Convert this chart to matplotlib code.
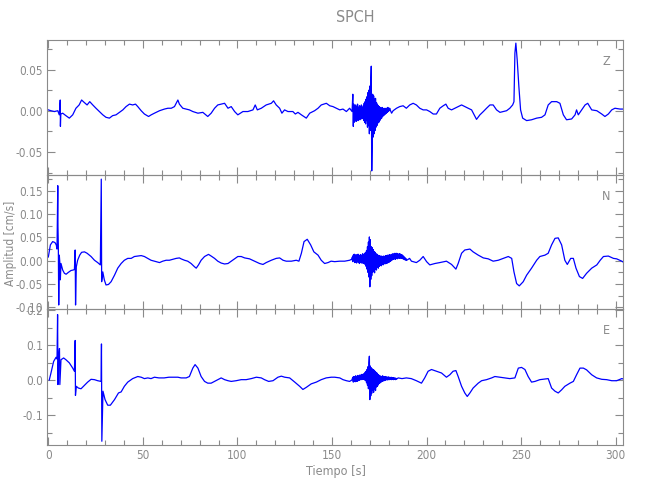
import numpy as np
import matplotlib
matplotlib.use("Agg")
import matplotlib.pyplot as plt
from matplotlib.ticker import MultipleLocator, FormatStrFormatter

plt.rcParams["font.family"] = ["DejaVu Sans"]
plt.rcParams["font.stretch"] = "condensed"

GRAY = "#8a8a8a"
BLUE = "#0000ff"

# ---- Z component (cm/s) ----
z_t = [0.0, 1.4, 3.2, 5.0, 5.8, 6.3, 6.4, 6.6, 7.6, 9.3, 11.1, 12.9, 14.6, 16.3, 17.6,
       19.0, 20.5, 21.9, 23.5, 25.2, 27.0, 28.8, 30.5, 32.3, 34.0, 35.8, 37.6, 39.4,
       41.1, 42.9, 44.6, 46.1, 47.3, 49.1, 50.8, 53.0, 54.4, 56.1, 58.8, 61.4, 63.2,
       65.0, 66.7, 68.5, 69.3, 71.1, 72.9, 74.6, 76.4, 79.1, 81.7, 84.3, 86.1, 87.9,
       89.6, 91.4, 93.2, 95.0, 96.7, 98.5, 100.2, 102.9, 105.5, 108.2, 109.4, 110.5,
       112.6, 115.2, 117.9, 119.1, 120.5, 122.3, 123.5, 124.9, 126.7, 129.3, 130.6,
       132.0, 133.8, 136.4, 138.2, 140.8, 142.6, 144.3, 147.0, 148.8, 150.5, 152.3,
       154.1, 155.8, 157.6, 159.3, 160.6,
       181.5, 182.3, 184.1, 185.8, 187.6, 189.3, 191.1, 192.9, 194.6, 196.4, 198.2,
       200.0, 201.7, 203.5, 205.2, 207.0, 208.8, 210.2, 211.4, 213.2, 215.0, 216.7,
       218.5, 220.2, 222.0, 223.8, 226.4, 228.2, 230.0, 231.7, 233.5, 235.2, 237.0,
       238.8, 240.5, 242.3, 244.0, 245.5, 246.2, 246.7, 247.2, 247.9, 248.8, 249.7,
       250.8, 252.9, 255.5, 258.2, 260.8, 262.6, 264.3, 266.1, 268.8, 270.5, 272.3,
       274.0, 276.7, 278.5, 279.3, 280.2, 282.0, 283.8, 285.2, 287.3, 290.0, 292.6,
       294.3, 296.1, 297.9, 299.6, 302.3, 304.0]
z_v = [0.001, 0.000, -0.001, 0.000, -0.005, 0.013, -0.019, -0.004, -0.003, -0.006,
       -0.009, -0.005, 0.003, 0.007, 0.013, 0.010, 0.007, 0.011, 0.007, 0.003, -0.001,
       -0.005, -0.008, -0.009, -0.006, -0.005, -0.002, 0.001, 0.005, 0.008, 0.007,
       0.008, 0.005, 0.000, -0.004, -0.007, -0.005, -0.003, 0.000, 0.002, 0.003, 0.003,
       0.005, 0.013, 0.008, 0.003, 0.002, 0.001, -0.001, -0.003, -0.002, -0.007,
       -0.003, 0.003, 0.007, 0.008, 0.009, 0.003, 0.005, -0.001, -0.005, -0.001,
       -0.001, 0.001, 0.007, 0.001, 0.003, 0.007, 0.009, 0.012, 0.007, 0.003, -0.003,
       0.001, -0.001, -0.001, -0.004, -0.002, -0.005, -0.009, -0.003, 0.000, 0.003,
       0.007, 0.009, 0.006, 0.005, 0.003, 0.001, 0.002, -0.001, 0.003, -0.001,
       -0.003, 0.000, 0.003, 0.005, 0.006, 0.003, 0.007, 0.009, 0.007, 0.003, 0.001,
       0.001, -0.001, -0.004, -0.004, 0.003, 0.006, 0.008, 0.003, 0.001, 0.003, 0.005,
       0.007, 0.005, 0.003, 0.001, -0.0105, -0.005, -0.001, 0.003, 0.007, 0.007,
       0.001, -0.002, -0.001, 0.000, 0.003, 0.007, 0.011, 0.070, 0.082, 0.062, 0.029,
       0.001, -0.009, -0.012, -0.011, -0.009, -0.008, -0.005, 0.007, 0.011, 0.011,
       0.009, -0.005, -0.011, -0.010, -0.005, 0.001, -0.005, 0.001, 0.007, 0.009,
       0.001, 0.000, -0.004, -0.007, -0.004, 0.001, 0.003, 0.002, 0.002]
# burst, one value every 0.25 s starting at 161.0 s (units of 0.001 cm/s)
z_burst_start = 161.0
z_burst = [20, -19, 8, -14, 6, -12, 7, -13, 5, -10, 8, -12, 4, -9, 6, -11, 5, -8, 7, -10,
           3, -9, 6, -12, 9, -14, 11, -16, 14, -12, 17, -20, 22, -18, 25, -28, 30, -24,
           34, 54, -73, -38, 20, -32, 18, -28, 14, -24, 15, -20, 10, -18, 8, -15, 6, -14,
           5, -12, 4, -10, 3, -9, 4, -7, 2, -6, 3, -5, 2, -4, 3, -3, 3, -2, 4, -1, 3, 0,
           3, 1]

# ---- N component ----
n_t = [0.0, 1.1, 2.3, 3.5, 4.2, 4.6, 5.0, 5.1, 5.3, 5.5, 5.8, 6.2, 6.35, 6.7, 7.6, 8.5,
       9.4, 10.6, 12.0, 13.1, 13.8, 14.2, 14.4, 14.8, 15.5, 16.6, 17.6, 19.1, 20.5,
       22.6, 24.4, 26.1, 27.5, 28.0, 28.2, 28.8, 29.6, 30.5, 31.8, 33.2, 35.0, 36.7,
       38.5, 40.2, 42.0, 43.8, 45.5, 47.3, 49.1, 50.8, 52.6, 54.3, 56.1, 58.8, 60.5,
       62.3, 64.0, 65.8, 67.6, 69.3, 70.2, 72.0, 73.7, 75.5, 77.3, 78.2, 79.4, 80.8,
       82.6, 84.7, 86.1, 87.9, 89.6, 91.4, 93.2, 95.0, 96.7, 98.5, 100.2, 102.0,
       103.8, 106.4, 109.1, 111.7, 113.5, 115.2, 117.9, 120.5, 122.3, 124.1, 125.8,
       128.5, 131.1, 132.5, 133.8, 135.2, 136.9, 138.7, 140.4, 142.6, 144.3, 146.1,
       147.9, 149.5, 151.4, 154.1, 156.7, 159.3, 160.3,
       191.0, 192.0, 194.6, 196.4, 198.2, 200.0, 201.7, 204.4, 207.0, 210.5, 213.2,
       215.5, 216.7, 218.5, 220.2, 222.9, 224.6, 227.3, 230.0, 232.6, 235.2, 237.9,
       240.5, 243.2, 245.0, 246.2, 247.6, 249.0, 251.1, 252.9, 255.5, 258.2, 259.9,
       262.6, 264.3, 266.1, 267.9, 269.6, 271.4, 273.1, 274.4, 276.2, 277.6, 279.0,
       280.8, 282.5, 284.6, 287.3, 290.0, 291.8, 293.5, 296.1, 298.8, 300.5, 303.2,
       304.0]
n_v = [0.008, 0.034, 0.041, 0.039, 0.034, 0.025, 0.161, 0.073, 0.030, -0.095, 0.012,
       -0.010, -0.041, -0.006, -0.020, -0.027, -0.029, -0.025, -0.021, -0.020, -0.019,
       0.023, -0.095, -0.013, 0.001, 0.012, 0.018, 0.019, 0.016, 0.009, 0.001, -0.004,
       -0.009, 0.175, -0.045, -0.024, -0.041, -0.052, -0.051, -0.045, -0.031, -0.016,
       -0.006, 0.001, 0.005, 0.005, 0.009, 0.010, 0.011, 0.009, 0.005, 0.001, -0.001,
       -0.004, -0.001, 0.001, 0.001, 0.003, 0.005, 0.006, 0.004, 0.001, -0.001, -0.006,
       -0.013, -0.016, -0.009, 0.001, 0.009, 0.0136, 0.010, 0.005, -0.001, -0.005,
       -0.007, -0.006, -0.001, 0.004, 0.009, 0.009, 0.006, 0.004, -0.001, -0.006,
       -0.008, -0.004, 0.001, 0.005, 0.006, 0.001, -0.001, -0.001, 0.001, -0.001,
       0.016, 0.041, 0.046, 0.034, 0.019, 0.012, 0.001, -0.006, -0.004, -0.001,
       -0.002, -0.001, -0.001, 0.001, 0.003,
       0.005, -0.001, -0.004, 0.001, 0.009, -0.002, -0.009, -0.006, -0.004, -0.001,
       -0.008, -0.018, -0.006, 0.016, 0.023, 0.025, 0.019, 0.012, 0.006, 0.004,
       -0.001, 0.001, 0.005, 0.009, 0.005, -0.024, -0.049, -0.054, -0.045, -0.031,
       -0.016, 0.001, 0.009, 0.012, 0.016, 0.034, 0.048, 0.049, 0.034, 0.001, -0.008,
       0.005, 0.005, -0.016, -0.034, -0.038, -0.027, -0.016, -0.009, 0.001, 0.009,
       0.010, 0.005, 0.004, -0.001, -0.003]
n_burst_start = 160.5
n_burst = [2, 8, -2, 12, 0, 14, -4, 12, -3, 13, -5, 11, -2, 14, -4, 10, -6, 12, -3, 13,
           -5, 11, -4, 15, -6, 12, -3, 16, -8, 18, -12, 22, -18, 30, -25, 40, -35, 51,
           -56, 45, -40, 30, -32, 28, -25, 24, -22, 20, -26, 18, -18, 15, -20, 14, -14,
           12, -16, 10, -12, 11, -10, 9, -11, 10, -8, 9, -9, 10, -6, 9, -7, 11, -5, 10,
           -6, 12, -3, 11, -4, 13, -2, 12, -1, 13, 1, 14, 2, 15, 3, 14, 4, 16, 3, 15, 5,
           16, 4, 15, 6, 14, 5, 15, 6, 14, 5, 13, 5, 12, 4, 10, 3, 8, 2, 6, 1, 4, 1]

# ---- E component ----
e_t = [0.5, 1.4, 2.8, 4.1, 4.6, 4.9, 5.1, 5.4, 5.9, 6.1, 6.7, 8.1, 9.3, 11.1, 12.9,
       13.8, 14.2, 14.35, 14.8, 15.9, 17.3, 19.1, 20.8, 22.6, 24.4, 26.1, 27.9, 28.1,
       28.3, 28.9, 30.0, 31.4, 32.8, 35.0, 37.1, 38.5, 40.2, 42.0, 44.6, 47.3, 49.1,
       50.8, 52.6, 54.3, 56.1, 58.5, 61.2, 63.8, 68.5, 70.2, 72.9, 74.6, 76.4, 77.6,
       79.1, 80.8, 82.6, 84.3, 86.1, 87.9, 89.6, 91.4, 93.2, 95.0, 96.7, 99.3, 102.0,
       104.6, 107.3, 110.0, 112.6, 114.3, 116.5, 118.8, 121.4, 123.2, 125.0, 127.6,
       130.3, 132.9, 134.6, 136.4, 139.0, 141.7, 144.3, 146.9, 149.6, 151.4, 154.1,
       155.8, 157.6, 159.3, 160.5,
       185.0, 187.0, 189.3, 191.9, 194.6, 197.3, 199.0, 200.8, 202.6, 205.2, 207.9,
       210.5, 212.3, 214.0, 215.5, 216.7, 218.5, 220.2, 221.5, 222.9, 224.6, 227.3,
       229.1, 231.7, 234.4, 236.1, 238.8, 241.4, 244.0, 246.7, 248.5, 250.2, 252.0,
       253.7, 255.5, 257.3, 259.9, 262.6, 264.3, 266.1, 267.9, 269.6, 271.4, 273.1,
       275.8, 277.6, 279.3, 281.1, 282.9, 284.6, 287.3, 289.9, 292.6, 295.2, 297.9,
       300.5, 303.2, 304.0]
e_v = [0.000, 0.020, 0.053, 0.065, 0.060, 0.187, -0.013, 0.060, 0.090, -0.013, 0.058,
       0.063, 0.058, 0.049, 0.034, 0.025, 0.113, -0.044, -0.018, -0.023, -0.025, -0.015,
       -0.006, 0.002, 0.001, -0.002, -0.004, 0.103, -0.175, -0.032, -0.056, -0.072,
       -0.072, -0.056, -0.037, -0.034, -0.018, -0.006, 0.004, 0.010, 0.008, 0.004,
       0.006, 0.004, 0.008, 0.006, 0.006, 0.008, 0.008, 0.006, 0.006, 0.010, 0.034,
       0.044, 0.034, 0.010, -0.004, -0.009, -0.009, -0.004, 0.001, 0.006, 0.001,
       -0.002, -0.004, -0.002, 0.001, 0.001, 0.004, 0.008, 0.006, 0.001, -0.004,
       -0.002, 0.008, 0.011, 0.008, 0.006, -0.006, -0.018, -0.027, -0.021, -0.011,
       -0.006, 0.001, 0.006, 0.008, 0.008, 0.006, 0.001, -0.002, -0.004, 0.000,
       0.006, 0.004, 0.006, 0.004, -0.002, -0.009, 0.006, 0.025, 0.030, 0.025, 0.020,
       0.008, 0.015, 0.025, 0.027, 0.010, -0.018, -0.037, -0.047, -0.037, -0.023,
       -0.009, -0.002, 0.001, 0.006, 0.010, 0.008, 0.006, 0.004, 0.006, 0.034, 0.036,
       0.030, 0.010, -0.006, -0.004, 0.001, 0.003, 0.004, -0.023, -0.032, -0.037,
       -0.028, -0.018, -0.009, -0.004, 0.015, 0.034, 0.034, 0.029, 0.015, 0.006,
       0.002, 0.001, -0.002, -0.002, 0.004, 0.003]
e_burst_start = 161.0
e_burst = [8, -6, 10, -4, 9, -5, 12, -3, 10, -4, 13, -2, 11, -1, 14, 0, 13, 2, 16, 1,
           15, 3, 17, 2, 18, 0, 22, -2, 25, -8, 30, -15, 38, -25, 50, 68, -56, 40, -45,
           35, -38, 32, -30, 30, -35, 28, -25, 25, -30, 22, -20, 20, -18, 16, -14, 14,
           -10, 12, -8, 11, -6, 10, -4, 12, -3, 10, -2, 9, -1, 10, 0, 9, 1, 8, 0, 9, 2,
           8, 1, 7, 2, 8, 1, 6, 2, 7, 1, 6, 2, 6, 1, 5, 2]

BURST_DT = 0.25


def merge_trace(t, v, burst_start, burst):
    bt = burst_start + BURST_DT * np.arange(len(burst))
    tt = np.concatenate([np.asarray(t), bt])
    vv = np.concatenate([np.asarray(v), np.asarray(burst) / 1000.0])
    order = np.argsort(tt, kind="stable")
    return tt[order], vv[order]


def style_axes(ax, ylim, major, minor, fmt, show_x):
    ax.set_xlim(-0.7, 304)
    ax.set_ylim(*ylim)
    ax.xaxis.set_major_locator(MultipleLocator(50))
    ax.xaxis.set_minor_locator(MultipleLocator(10))
    ax.yaxis.set_major_locator(MultipleLocator(major))
    ax.yaxis.set_minor_locator(MultipleLocator(minor))
    ax.yaxis.set_major_formatter(FormatStrFormatter(fmt))
    ax.tick_params(which="both", direction="in", top=True, right=True,
                   colors=GRAY, labelcolor=GRAY, labelsize=8.5, width=0.8, pad=3)
    ax.tick_params(which="major", length=6)
    ax.tick_params(which="minor", length=3.5)
    if not show_x:
        ax.tick_params(axis="x", labelbottom=False)
    for s in ax.spines.values():
        s.set_color(GRAY)
        s.set_linewidth(0.8)


fig = plt.figure(figsize=(6.5, 5), dpi=100)
left, width = 0.0723, 0.8866
ax_z = fig.add_axes([left, 0.65, width, 0.27])
ax_n = fig.add_axes([left, 0.382, width, 0.268])
ax_e = fig.add_axes([left, 0.11, width, 0.272])

panels = [
    (ax_z, z_t, z_v, z_burst_start, z_burst, "Z", (-0.078, 0.0858), 0.05, 0.025, "%.2f", False),
    (ax_n, n_t, n_v, n_burst_start, n_burst, "N", (-0.1036, 0.1839), 0.05, 0.025, "%.2f", False),
    (ax_e, e_t, e_v, e_burst_start, e_burst, "E", (-0.1857, 0.2029), 0.1, 0.05, "%.1f", True),
]

for ax, t, v, bs, b, name, ylim, major, minor, fmt, show_x in panels:
    tt, vv = merge_trace(t, v, bs, b)
    ax.plot(tt, vv, color=BLUE, linewidth=0.9, clip_on=(name != "N"))
    style_axes(ax, ylim, major, minor, fmt, show_x)
    ax.text(0.97, 0.84, name, transform=ax.transAxes, color=GRAY, fontsize=9,
            ha="center", va="center")
    ax.set_facecolor("none")

fig.text(0.546, 0.966, "SPCH", color=GRAY, fontsize=11.5, ha="center", va="center")
fig.text(0.517, 0.058, "Tiempo [s]", color=GRAY, fontsize=9, ha="center", va="center")
fig.text(0.016, 0.514, "Amplitud [cm/s]", color=GRAY, fontsize=8.5, ha="center",
         va="center", rotation=90)

fig.savefig("out.png", dpi=100)
plt.close(fig)
